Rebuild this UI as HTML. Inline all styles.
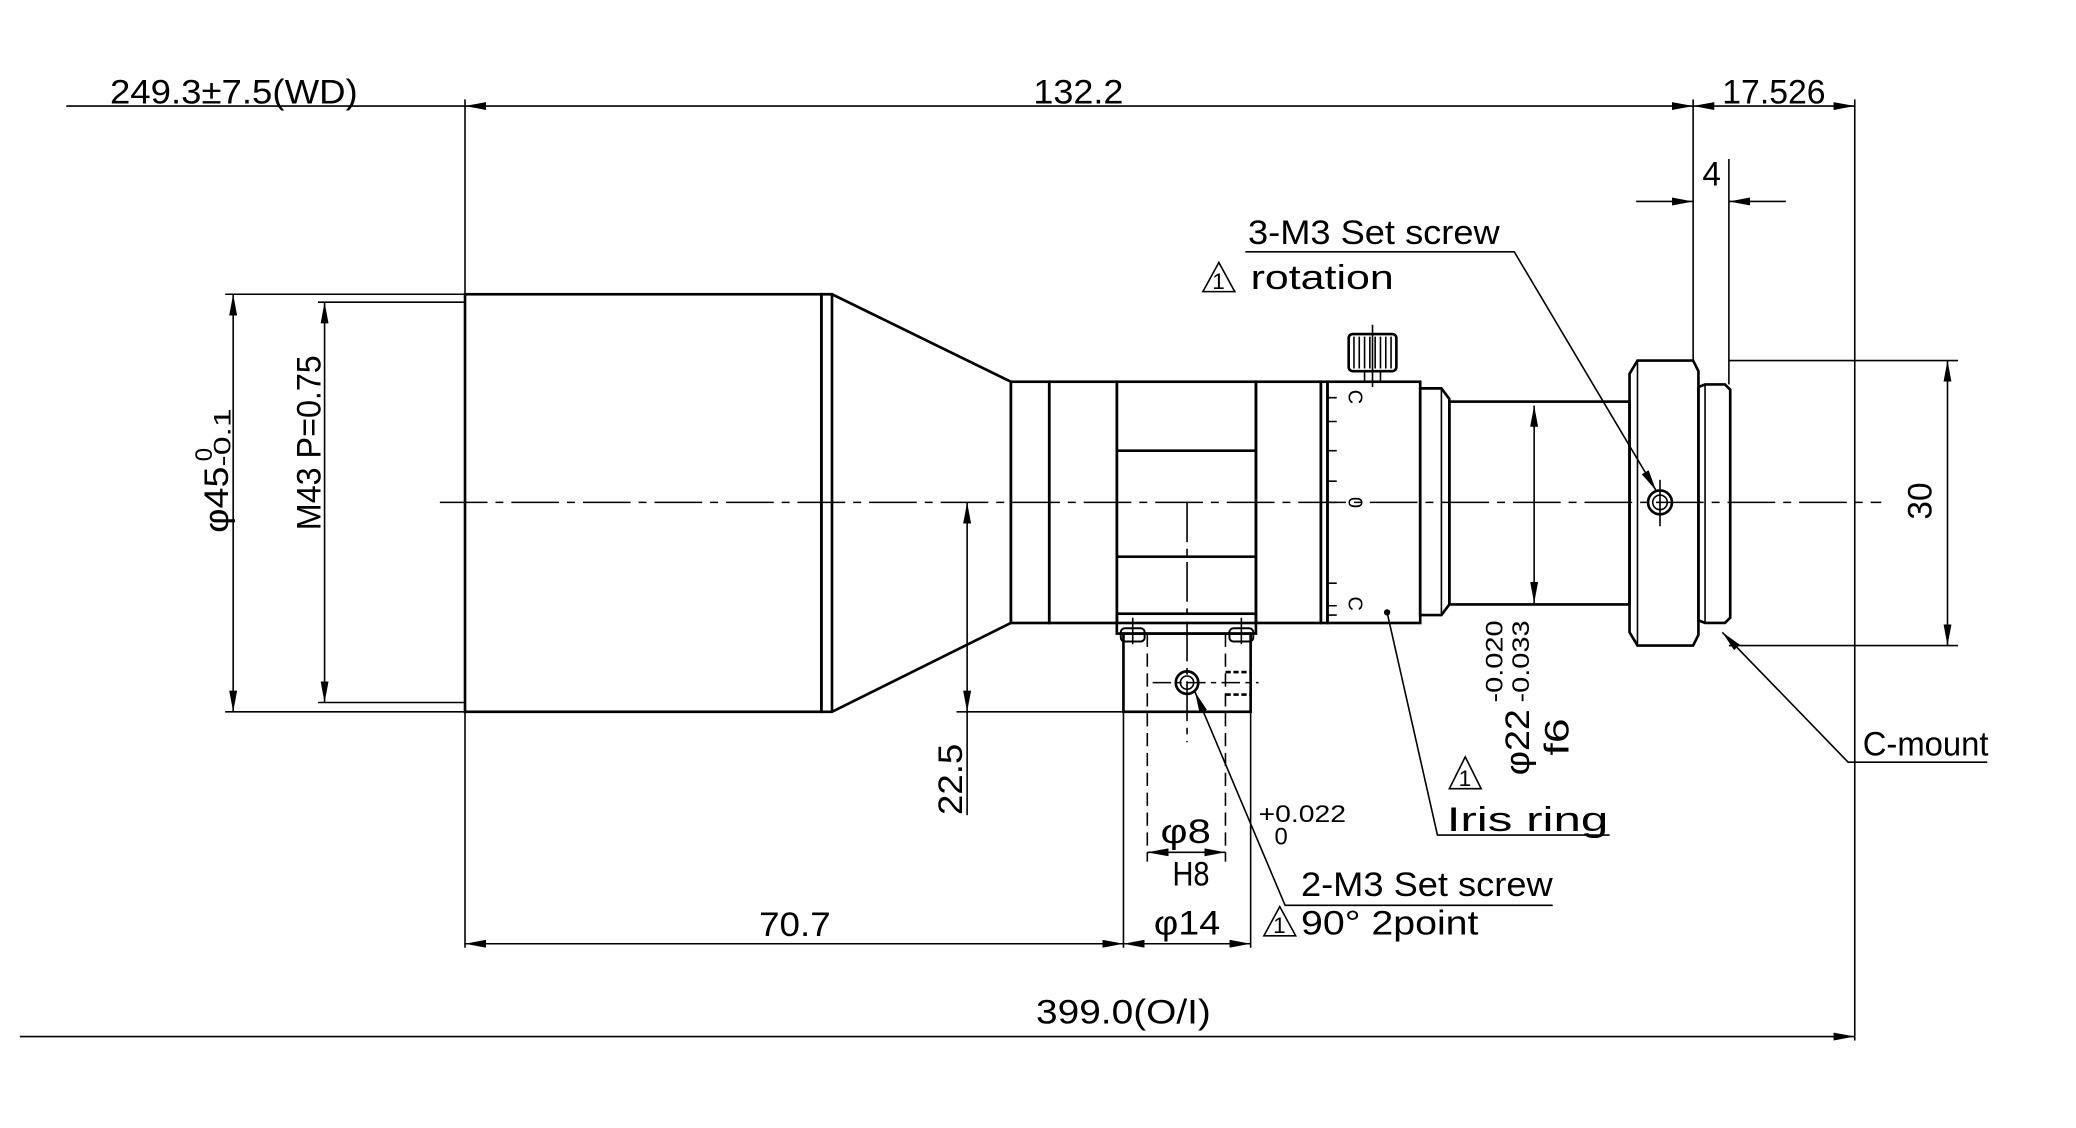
<!DOCTYPE html>
<html><head><meta charset="utf-8"><style>
html,body{margin:0;padding:0;background:#fff;}
svg{display:block;}
text{font-family:"Liberation Sans","DejaVu Sans",sans-serif;fill:#000;}
</style></head><body>
<svg width="2076" height="1128" viewBox="0 0 1567 851" preserveAspectRatio="none" xmlns="http://www.w3.org/2000/svg">
<defs>
<marker id="a" viewBox="0 0 16 6" refX="16" refY="3" markerWidth="16" markerHeight="6" markerUnits="userSpaceOnUse" orient="auto-start-reverse"><path d="M0,0 L16,3 L0,6 z" fill="#000"/></marker>
</defs>
<g stroke="#000" fill="none" stroke-width="1.2">
<line x1="50" y1="80" x2="351" y2="80"/>
<line x1="351" y1="80" x2="1278" y2="80" marker-start="url(#a)" marker-end="url(#a)"/>
<line x1="1278" y1="80" x2="1400" y2="80" marker-start="url(#a)" marker-end="url(#a)"/>
<line x1="351" y1="75" x2="351" y2="715"/>
<line x1="1278" y1="75" x2="1278" y2="272"/>
<line x1="1305" y1="120" x2="1305" y2="290"/>
<line x1="1400" y1="75" x2="1400" y2="785"/>
<line x1="1235" y1="152" x2="1278" y2="152" marker-end="url(#a)"/>
<line x1="1348" y1="152" x2="1305" y2="152" marker-end="url(#a)"/>
<line x1="176" y1="222" x2="176" y2="537" marker-start="url(#a)" marker-end="url(#a)"/>
<line x1="170" y1="222" x2="351" y2="222"/>
<line x1="170" y1="537" x2="351" y2="537"/>
<line x1="245" y1="228" x2="245" y2="530" marker-start="url(#a)" marker-end="url(#a)"/>
<line x1="240" y1="228" x2="351" y2="228"/>
<line x1="240" y1="530" x2="351" y2="530"/>
</g>
<g stroke="#000" fill="none" stroke-width="2">
<rect x="351" y="222" width="269" height="315"/>
<line x1="628" y1="222" x2="628" y2="537"/>
<polygon points="620,222 628,222 763,288 763,470 628,537 620,537"/>
<rect x="763" y="288" width="29" height="182"/>
<rect x="792" y="288" width="51" height="182"/>
<rect x="843" y="288" width="105" height="182"/>
<line x1="843" y1="340" x2="948" y2="340"/>
<line x1="843" y1="420" x2="948" y2="420"/>
<rect x="948" y="288" width="49" height="182"/>
<rect x="997" y="288" width="5" height="182"/>
<rect x="1002" y="288" width="70" height="182"/>
<polygon points="1072,293 1088,293 1094,301 1094,456 1088,464 1072,464"/>
<line x1="1088" y1="293" x2="1088" y2="464" stroke-width="1.2"/>
<rect x="1094" y="303" width="136" height="153"/>
<polygon points="1236,272 1278,272 1282,280 1282,479 1278,487 1236,487 1230,477 1230,282"/>
<line x1="1236" y1="272" x2="1236" y2="487" stroke-width="1.2"/>
<polygon points="1282,292 1287,290 1302,290 1306,294 1306,466 1302,470 1287,470 1282,468"/>
<line x1="1287" y1="290" x2="1287" y2="470" stroke-width="1.2"/>
<rect x="1018" y="252" width="36" height="28" rx="3"/>
<rect x="1030" y="280" width="12" height="8" stroke-width="1.2"/>
<rect x="843" y="463" width="105" height="15"/>
<rect x="848" y="478" width="96" height="59"/>
<rect x="846" y="474" width="18" height="10" rx="3" stroke-width="1.5"/>
<rect x="928" y="474" width="18" height="10" rx="3" stroke-width="1.5"/>
</g>
<g stroke="#000" fill="none" stroke-width="1.2">
<path d="M1022,254v24M1026,254v24M1030,254v24M1034,254v24M1038,254v24M1042,254v24M1046,254v24M1050,254v24"/>
<line x1="1036" y1="245" x2="1036" y2="292"/>
<path d="M1002,300h7M1002,318h7M1002,340h7M1002,363h7M1002,379h7M1002,440h7M1002,457h7M1002,464h7"/>
<line x1="332" y1="379" x2="1420" y2="379" stroke-dasharray="36,6,6,6"/>
<line x1="896" y1="379" x2="896" y2="560" stroke-dasharray="30,5,5,5"/>
<line x1="855" y1="466" x2="855" y2="486"/>
<line x1="937" y1="466" x2="937" y2="486"/>
<line x1="866" y1="478" x2="866" y2="650" stroke-dasharray="10,5"/>
<line x1="925" y1="478" x2="925" y2="650" stroke-dasharray="10,5"/>
<line x1="848" y1="537" x2="848" y2="715"/>
<line x1="944" y1="537" x2="944" y2="715"/>
<path d="M925,507h19M925,524h19" stroke-dasharray="4,2" stroke-width="2"/>
<line x1="870" y1="515" x2="950" y2="515" stroke-dasharray="14,4,4,4"/>
<circle cx="896" cy="515" r="8.5" stroke-width="2"/>
<circle cx="896" cy="515" r="5"/>
<circle cx="1253" cy="379" r="9" stroke-width="2"/>
<circle cx="1253" cy="379" r="5.5"/>
<line x1="1253" y1="362" x2="1253" y2="397"/>
<circle cx="1047" cy="462" r="1.8" fill="#000"/>
<line x1="730" y1="379" x2="730" y2="537" marker-start="url(#a)" marker-end="url(#a)"/>
<line x1="730" y1="537" x2="730" y2="615"/>
<line x1="722" y1="537" x2="848" y2="537"/>
<line x1="866" y1="643" x2="925" y2="643" marker-start="url(#a)" marker-end="url(#a)"/>
<line x1="848" y1="712" x2="944" y2="712" marker-start="url(#a)" marker-end="url(#a)"/>
<line x1="351" y1="712" x2="848" y2="712" marker-start="url(#a)" marker-end="url(#a)"/>
<line x1="15" y1="782" x2="1400" y2="782" marker-end="url(#a)"/>
<line x1="1158" y1="306" x2="1158" y2="455" marker-start="url(#a)" marker-end="url(#a)"/>
<line x1="1470" y1="272" x2="1470" y2="487" marker-start="url(#a)" marker-end="url(#a)"/>
<line x1="1305" y1="272" x2="1478" y2="272"/>
<line x1="1305" y1="487" x2="1478" y2="487"/>
<polyline points="1500,575 1395,575 1300,477" marker-end="url(#a)"/>
<polyline points="1215,630 1085,630 1047,462"/>
<polyline points="940,190 1143,190 1250,370" marker-end="url(#a)"/>
<polyline points="1172,683 970,683 902,522" marker-end="url(#a)"/>
<polygon points="920,198 908,220 932,220"/>
<polygon points="1106,571 1094,595 1118,595"/>
<polygon points="966,684 954,706 978,706"/>
</g>
<g font-size="26">
<text x="83" y="78" textLength="187" lengthAdjust="spacingAndGlyphs">249.3±7.5(WD)</text>
<text x="780" y="78" textLength="68" lengthAdjust="spacingAndGlyphs">132.2</text>
<text x="1300" y="78" textLength="78" lengthAdjust="spacingAndGlyphs">17.526</text>
<text x="1285" y="140" textLength="14" lengthAdjust="spacingAndGlyphs">4</text>
<text transform="translate(172,402) rotate(-90)" textLength="50" lengthAdjust="spacingAndGlyphs">φ45</text>
<text transform="translate(160,348) rotate(-90)" font-size="18">0</text>
<text transform="translate(174,352) rotate(-90)" font-size="18" textLength="44" lengthAdjust="spacingAndGlyphs">-0.1</text>
<text transform="translate(242,400) rotate(-90)" textLength="132" lengthAdjust="spacingAndGlyphs">M43 P=0.75</text>
<text transform="translate(726,615) rotate(-90)" textLength="54" lengthAdjust="spacingAndGlyphs">22.5</text>
<text x="876" y="636" textLength="38" lengthAdjust="spacingAndGlyphs">φ8</text>
<text x="885" y="668" textLength="28" lengthAdjust="spacingAndGlyphs">H8</text>
<text x="950" y="620" font-size="18" textLength="66" lengthAdjust="spacingAndGlyphs">+0.022</text>
<text x="962" y="637" font-size="18">0</text>
<text x="871" y="705" textLength="50" lengthAdjust="spacingAndGlyphs">φ14</text>
<text x="573" y="706" textLength="54" lengthAdjust="spacingAndGlyphs">70.7</text>
<text x="782" y="772" textLength="132" lengthAdjust="spacingAndGlyphs">399.0(O/I)</text>
<text transform="translate(1458,392) rotate(-90)" textLength="28" lengthAdjust="spacingAndGlyphs">30</text>
<text x="1406" y="570" textLength="95" lengthAdjust="spacingAndGlyphs">C-mount</text>
<text x="1092" y="627" textLength="122" lengthAdjust="spacingAndGlyphs">Iris ring</text>
<text x="942" y="184" textLength="190" lengthAdjust="spacingAndGlyphs">3-M3 Set screw</text>
<text x="944" y="218" textLength="108" lengthAdjust="spacingAndGlyphs">rotation</text>
<text x="982" y="676" textLength="190" lengthAdjust="spacingAndGlyphs">2-M3 Set screw</text>
<text x="982" y="705" textLength="134" lengthAdjust="spacingAndGlyphs">90° 2point</text>
<text transform="translate(1154,585) rotate(-90)" textLength="50" lengthAdjust="spacingAndGlyphs">φ22</text>
<text transform="translate(1134,530) rotate(-90)" font-size="18" textLength="62" lengthAdjust="spacingAndGlyphs">-0.020</text>
<text transform="translate(1154,530) rotate(-90)" font-size="18" textLength="62" lengthAdjust="spacingAndGlyphs">-0.033</text>
<text transform="translate(1184,570) rotate(-90)" textLength="28" lengthAdjust="spacingAndGlyphs">f6</text>
<text x="915" y="218" font-size="17">1</text>
<text x="1101" y="593" font-size="17">1</text>
<text x="961" y="704" font-size="17">1</text>
<text transform="translate(1018,294) rotate(90)" font-size="15">C</text>
<text transform="translate(1018,375) rotate(90)" font-size="15">0</text>
<text transform="translate(1018,450) rotate(90)" font-size="15">C</text>
</g>
</svg>
</body></html>
